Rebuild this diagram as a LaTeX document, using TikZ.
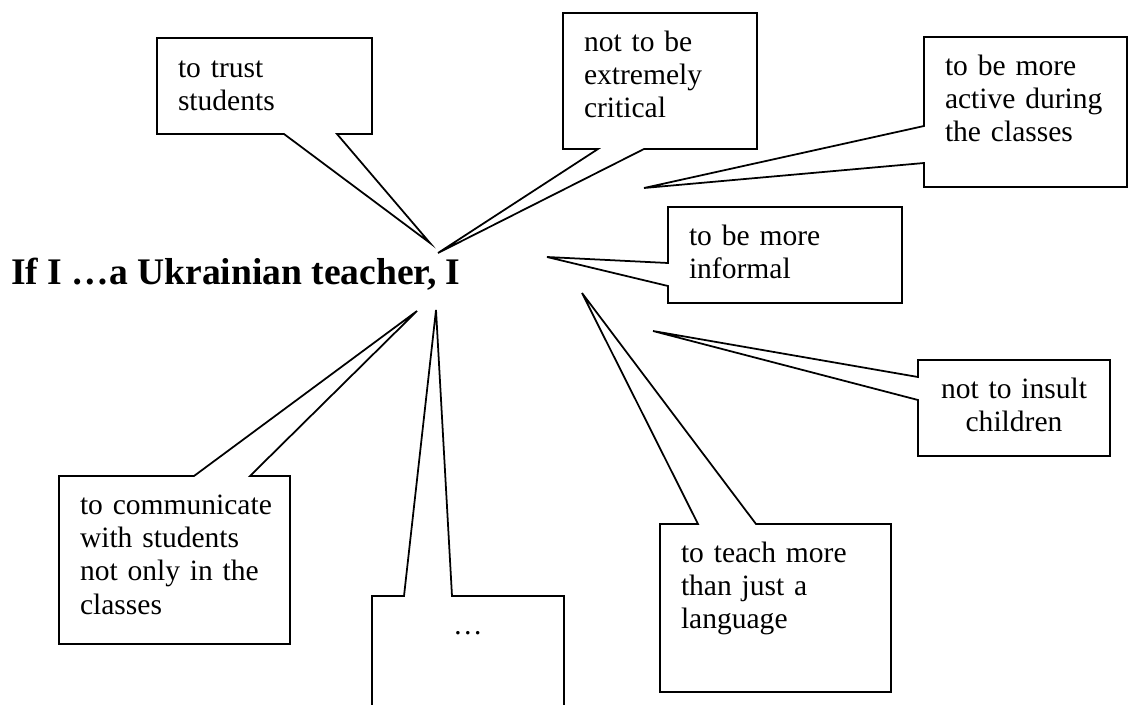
\documentclass[tikz,border=0pt]{standalone}
\usepackage{fontspec}
\setmainfont{Liberation Serif}
\usetikzlibrary{positioning,fit}

\newcommand\bubblefont{\fontsize{21pt}{23.8pt}\selectfont}
\newcommand\headfont{\fontsize{26.7pt}{30pt}\selectfont\bfseries}

\begin{document}
\begin{tikzpicture}[x=0.025cm, y=-0.025cm,
		frame/.style={rectangle, inner sep=0pt, outer sep=0pt, draw=none},
		outline/.style={draw, line width=1.25pt, line join=miter, fill=white},
		words/.style={anchor=north west, inner sep=0pt, outer sep=0pt, text width=5.5cm, font=\bubblefont, execute at begin node=\strut},
		midwords/.style={anchor=north, inner sep=0pt, outer sep=0pt, text width=#1, font=\bubblefont, execute at begin node={\centering\strut}}
		]
		\fill[white] (0,0) rectangle (1131,704);
		\useasboundingbox (0,0) rectangle (1131,704);
		
		\coordinate (trust-tip) at (430,243);
		\coordinate (critical-tip) at (438,253);
		\coordinate (active-tip) at (644,188);
		\coordinate (informal-tip) at (547,257);
		\coordinate (insult-tip) at (653,331);
		\coordinate (teach-tip) at (582,293);
		\coordinate (dots-tip) at (436,310);
		\coordinate (commun-tip) at (417,311);
		
		\node[frame, fit={(157,38) (372,134)}] (trust) {};
		\node[frame, fit={(563,13) (757,149)}] (critical) {};
		\node[frame, fit={(924,37) (1127,187)}] (active) {};
		\node[frame, fit={(668,207) (902,303)}] (informal) {};
		\node[frame, fit={(918,360) (1110,456)}] (insult) {};
		\node[frame, fit={(660,524) (891,692)}] (teach) {};
		\node[frame, fit={(372,596) (564,712)}] (dots) {};
		\node[frame, fit={(59,476) (290,644)}] (commun) {};
		
		\draw[outline] (trust.north west) -- (trust.north east) -- (trust.south east)
			-- ([shift={(180,0)}]trust.south west) -- (trust-tip)
			-- ([shift={(127,0)}]trust.south west) -- (trust.south west) -- cycle;
		\draw[outline] (critical.north west) -- (critical.north east) -- (critical.south east)
			-- ([shift={(81,0)}]critical.south west) -- (critical-tip)
			-- ([shift={(35,0)}]critical.south west) -- (critical.south west) -- cycle;
		\draw[outline] (active.north west) -- (active.north east) -- (active.south east)
			-- (active.south west) -- ([shift={(0,126)}]active.north west) -- (active-tip)
			-- ([shift={(0,89)}]active.north west) -- cycle;
		\draw[outline] (informal.north west) -- (informal.north east) -- (informal.south east)
			-- (informal.south west) -- ([shift={(0,79)}]informal.north west) -- (informal-tip)
			-- ([shift={(0,56)}]informal.north west) -- cycle;
		\draw[outline] (insult.north west) -- (insult.north east) -- (insult.south east)
			-- (insult.south west) -- ([shift={(0,40)}]insult.north west) -- (insult-tip)
			-- ([shift={(0,17)}]insult.north west) -- cycle;
		\draw[outline] (teach.north west) -- ([shift={(38,0)}]teach.north west) -- (teach-tip)
			-- ([shift={(96,0)}]teach.north west) -- (teach.north east) -- (teach.south east)
			-- (teach.south west) -- cycle;
		\draw[outline] (dots.north west) -- ([shift={(32,0)}]dots.north west) -- (dots-tip)
			-- ([shift={(80,0)}]dots.north west) -- (dots.north east) -- (dots.south east)
			-- (dots.south west) -- cycle;
		\draw[outline] (commun.north west) -- ([shift={(135,0)}]commun.north west) -- (commun-tip)
			-- ([shift={(191,0)}]commun.north west) -- (commun.north east) -- (commun.south east)
			-- (commun.south west) -- cycle;
		
		\node[words] (trust-text) at ([shift={(21,16)}]trust.north west) {to trust\\students};
		\node[words] (critical-text) at ([shift={(21,14.6)}]critical.north west) {not to be\\extremely\\critical};
		\node[words] (active-text) at ([shift={(21,14.6)}]active.north west) {to be more\\active during\\the classes};
		\node[words] (informal-text) at ([shift={(21,14.6)}]informal.north west) {to be more\\informal};
		\node[midwords=4.8cm] (insult-text) at ([shift={(0,14.6)}]insult.north) {not to insult\\children};
		\node[words] (teach-text) at ([shift={(21,14.6)}]teach.north west) {to teach more\\than just a\\language};
		\node[midwords=4.8cm] (dots-text) at ([shift={(0,14.6)}]dots.north) {…};
		\node[words] (commun-text) at ([shift={(21,14.6)}]commun.north west) {to communicate\\with students\\not only in the\\classes};
		
		\node[anchor=base west, inner sep=0pt, font=\headfont] (head) at (11,284) {If I …a Ukrainian teacher, I};
	\end{tikzpicture}
\end{document}
